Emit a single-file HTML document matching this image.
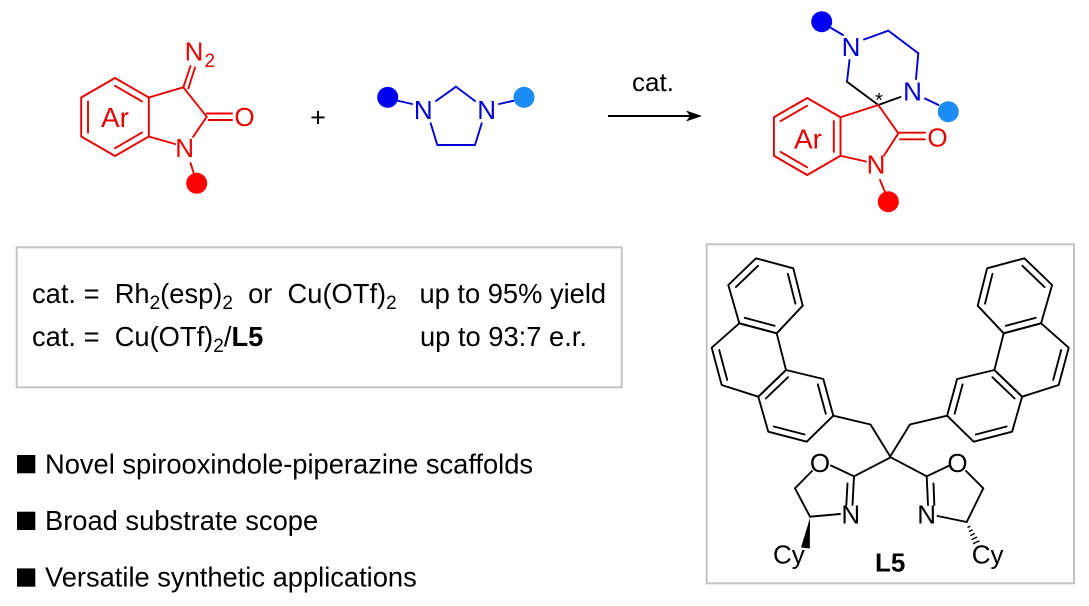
<!DOCTYPE html>
<html>
<head>
<meta charset="utf-8">
<style>
  html, body { margin:0; padding:0; background:#fff; }
  body { width:1089px; height:606px; overflow:hidden; }
  svg { display:block; }
  text { font-family:"Liberation Sans", Arial, sans-serif; white-space:pre; }
</style>
</head>
<body>
<svg width="1089" height="606" viewBox="0 0 1089 606" xmlns="http://www.w3.org/2000/svg">
  <rect x="0" y="0" width="1089" height="606" fill="#ffffff"/>

  <!-- ============ Left reactant (red) ============ -->
  <g stroke="#e60000" stroke-width="1.9" fill="none" stroke-linecap="round" stroke-linejoin="round">
    <polygon points="115,78 148.8,97.5 148.8,136.5 115,156 81.2,136.5 81.2,97.5"/>
    <line x1="88" y1="101.4" x2="88" y2="132.6"/>
    <line x1="115" y1="85.8" x2="142" y2="101.4"/>
    <line x1="115" y1="148.2" x2="142" y2="132.6"/>
    <line x1="148.8" y1="97.5" x2="183.3" y2="87.3"/>
    <line x1="183.3" y1="87.3" x2="206.7" y2="116.7"/>
    <line x1="206.7" y1="116.7" x2="193" y2="137"/>
    <line x1="175" y1="144" x2="148.8" y2="136.5"/>
    <line x1="183.3" y1="87.3" x2="190.5" y2="66"/>
    <line x1="188.3" y1="88.5" x2="195" y2="67.5"/>
    <line x1="206.7" y1="113.5" x2="232" y2="113.5"/>
    <line x1="208.5" y1="120" x2="232" y2="120"/>
    <line x1="190.5" y1="163" x2="194" y2="174"/>
  </g>
  <circle cx="196.7" cy="183.3" r="10.5" fill="#ff0000"/>
  <g fill="#e60000" font-size="26">
    <text x="194" y="60.6" text-anchor="middle">N</text>
    <text x="204.5" y="67" font-size="19">2</text>
    <text x="184.7" y="157" text-anchor="middle">N</text>
    <text x="244.5" y="126" text-anchor="middle">O</text>
    <text x="115" y="127" text-anchor="middle" font-size="28">Ar</text>
  </g>

  <!-- plus -->
  <text x="318" y="126.5" text-anchor="middle" font-size="27" fill="#000">+</text>

  <!-- ============ Imidazolidine (blue) ============ -->
  <g stroke="#0000d0" stroke-width="1.9" fill="none" stroke-linecap="round" stroke-linejoin="round">
    <line x1="397" y1="100.5" x2="412" y2="104"/>
    <line x1="436" y1="101" x2="456" y2="86.7"/>
    <line x1="456" y1="86.7" x2="475" y2="101"/>
    <polyline points="430.7,123.3 437.3,145 475,145 481.7,123.3"/>
    <line x1="499" y1="104" x2="514" y2="100.7"/>
  </g>
  <circle cx="387.7" cy="97.3" r="10.5" fill="#0000f0"/>
  <circle cx="524" cy="97.3" r="10.5" fill="#1e8cf5"/>
  <g fill="#0000d0" font-size="26">
    <text x="423.3" y="118.8" text-anchor="middle">N</text>
    <text x="486.7" y="118.8" text-anchor="middle">N</text>
  </g>

  <!-- ============ Arrow ============ -->
  <text x="653" y="91" text-anchor="middle" font-size="26" fill="#000">cat.</text>
  <line x1="608" y1="116" x2="692" y2="116" stroke="#000" stroke-width="1.9"/>
  <polygon points="702,116 686,110.5 690,116 686,121.5" fill="#000"/>

  <!-- ============ Product ============ -->
  <g stroke="#0000d0" stroke-width="1.9" fill="none" stroke-linecap="round" stroke-linejoin="round">
    <line x1="831" y1="28" x2="843" y2="35"/>
    <line x1="864" y1="39.5" x2="888.3" y2="30.7"/>
    <line x1="888.3" y1="30.7" x2="918.3" y2="53.3"/>
    <line x1="918.3" y1="53.3" x2="916" y2="79"/>
    <line x1="849.5" y1="60" x2="847" y2="81.7"/>
    <line x1="925" y1="98.5" x2="938.5" y2="105"/>
  </g>
  <g stroke="#000" stroke-width="1.9" fill="none" stroke-linecap="round">
    <line x1="847" y1="81.7" x2="878.3" y2="105"/>
    <line x1="878.3" y1="105" x2="900.5" y2="97"/>
  </g>
  <g stroke="#e60000" stroke-width="1.9" fill="none" stroke-linecap="round" stroke-linejoin="round">
    <polygon points="807.2,98 840.5,117.25 840.5,155.75 807.2,175 773.9,155.75 773.9,117.25"/>
    <line x1="780.6" y1="121.1" x2="807.2" y2="105.7"/>
    <line x1="833.8" y1="121.1" x2="833.8" y2="151.9"/>
    <line x1="780.6" y1="151.9" x2="807.2" y2="167.3"/>
    <line x1="878.3" y1="105" x2="840.5" y2="117.25"/>
    <line x1="878.3" y1="105" x2="898.3" y2="133.3"/>
    <line x1="898.3" y1="132.7" x2="925" y2="132.7"/>
    <line x1="900" y1="139.3" x2="925" y2="139.3"/>
    <line x1="898.3" y1="133.3" x2="884" y2="155.5"/>
    <line x1="866" y1="161.5" x2="840.5" y2="155.75"/>
    <line x1="880" y1="180" x2="885" y2="192"/>
  </g>
  <circle cx="821.7" cy="21.7" r="10.5" fill="#0000f0"/>
  <circle cx="948.3" cy="111.7" r="10.5" fill="#1e8cf5"/>
  <circle cx="888.3" cy="201.7" r="10.5" fill="#ff0000"/>
  <g fill="#0000d0" font-size="26">
    <text x="851" y="55.8" text-anchor="middle">N</text>
    <text x="912.5" y="100.3" text-anchor="middle">N</text>
  </g>
  <text x="879" y="107" text-anchor="middle" font-size="20" fill="#000">*</text>
  <g fill="#e60000" font-size="26">
    <text x="937.5" y="146.3" text-anchor="middle">O</text>
    <text x="876" y="173.3" text-anchor="middle">N</text>
    <text x="808" y="148.3" text-anchor="middle" font-size="28">Ar</text>
  </g>

  <!-- ============ Conditions box ============ -->
  <rect x="16.7" y="247.3" width="605" height="140" fill="none" stroke="#c4c4c4" stroke-width="2"/>
  <g font-size="27.3" fill="#000">
    <text x="32" y="303">cat. =  Rh<tspan font-size="19" dy="6">2</tspan><tspan dy="-6">(esp)</tspan><tspan font-size="19" dy="6">2</tspan><tspan dy="-6">  or  Cu(OTf)</tspan><tspan font-size="19" dy="6">2</tspan><tspan dy="-6">   up to 95% yield</tspan></text>
    <text x="32" y="346">cat. =  Cu(OTf)<tspan font-size="19" dy="6">2</tspan><tspan dy="-6">/</tspan><tspan font-weight="bold">L5</tspan></text>
    <text x="420" y="346">up to 93:7 e.r.</text>
  </g>

  <!-- ============ Bullets ============ -->
  <rect x="17" y="455" width="18.3" height="18.3" fill="#000"/>
  <rect x="17" y="511.7" width="18.3" height="18.3" fill="#000"/>
  <rect x="17" y="568.4" width="18.3" height="18.3" fill="#000"/>
  <g font-size="27.3" fill="#000">
    <text x="45" y="473.3">Novel spirooxindole-piperazine scaffolds</text>
    <text x="45" y="530">Broad substrate scope</text>
    <text x="45" y="586.7">Versatile synthetic applications</text>
  </g>

  <!-- ============ L5 box ============ -->
  <rect x="706.7" y="244.3" width="367.3" height="339" fill="none" stroke="#c4c4c4" stroke-width="2"/>

  <g stroke="#000" stroke-width="1.9" fill="none" stroke-linecap="round" stroke-linejoin="round">
    <polygon points="756,258.3 793.3,268.3 802.7,305.7 776.7,333.3 739.3,323.3 728.3,285"/>
    <polygon points="739.3,323.3 776.7,333.3 786,370 758.3,396.7 721.7,385 711.7,347.7"/>
    <polygon points="786,370 823.3,379 833.3,415.7 806.7,441.7 768.3,431.7 758.3,396.7"/>
    <line x1="735.9" y1="287.1" x2="758" y2="265.8"/>
    <line x1="787.9" y1="273.8" x2="795.4" y2="303.7"/>
    <line x1="774.6" y1="325.8" x2="744.7" y2="317.8"/>
    <line x1="719.2" y1="350" x2="727.2" y2="379.9"/>
    <line x1="817.8" y1="384.4" x2="825.8" y2="413.7"/>
    <line x1="804.6" y1="434.5" x2="773.8" y2="426.5"/>
    <line x1="765.8" y1="398.5" x2="788" y2="377.2"/>
    <polyline points="833.3,415.7 870.5,424.5 890.7,457.3"/>
  </g>
  <g transform="matrix(-1,0,0,1,1780.4,0)" stroke="#000" stroke-width="1.9" fill="none" stroke-linecap="round" stroke-linejoin="round">
    <polygon points="756,258.3 793.3,268.3 802.7,305.7 776.7,333.3 739.3,323.3 728.3,285"/>
    <polygon points="739.3,323.3 776.7,333.3 786,370 758.3,396.7 721.7,385 711.7,347.7"/>
    <polygon points="786,370 823.3,379 833.3,415.7 806.7,441.7 768.3,431.7 758.3,396.7"/>
    <line x1="735.9" y1="287.1" x2="758" y2="265.8"/>
    <line x1="787.9" y1="273.8" x2="795.4" y2="303.7"/>
    <line x1="774.6" y1="325.8" x2="744.7" y2="317.8"/>
    <line x1="719.2" y1="350" x2="727.2" y2="379.9"/>
    <line x1="817.8" y1="384.4" x2="825.8" y2="413.7"/>
    <line x1="804.6" y1="434.5" x2="773.8" y2="426.5"/>
    <line x1="765.8" y1="398.5" x2="788" y2="377.2"/>
    <polyline points="833.3,415.7 870.5,424.5 890.7,457.3"/>
  </g>

  <!-- oxazolines -->
  <g stroke="#000" stroke-width="1.9" fill="none" stroke-linecap="round" stroke-linejoin="round">
    <line x1="890.7" y1="457.3" x2="854" y2="476.3"/>
    <line x1="854" y1="476.3" x2="831" y2="465.5"/>
    <line x1="812" y1="471" x2="795" y2="488.3"/>
    <line x1="795" y1="488.3" x2="810" y2="516.7"/>
    <line x1="810" y1="516.7" x2="840" y2="514"/>
    <line x1="854" y1="476.3" x2="852.5" y2="505"/>
    <line x1="847.5" y1="483.5" x2="846.3" y2="505"/>

    <line x1="890.7" y1="457.3" x2="926.7" y2="476.3"/>
    <line x1="926.7" y1="476.3" x2="949.5" y2="465.5"/>
    <line x1="966" y1="471" x2="983.3" y2="488.3"/>
    <line x1="983.3" y1="488.3" x2="966.7" y2="522"/>
    <line x1="966.7" y1="522" x2="937.5" y2="516"/>
    <line x1="926.7" y1="476.3" x2="928" y2="505"/>
    <line x1="933.5" y1="483.5" x2="934.3" y2="505"/>
  </g>
  <polygon points="810,518 801,547.5 809.8,548.5" fill="#000"/>
  <g stroke="#000" stroke-width="1.4">
    <line x1="967.5" y1="527.5" x2="970.4" y2="526.1"/>
    <line x1="968.9" y1="531.5" x2="972.7" y2="529.8"/>
    <line x1="970.3" y1="535.6" x2="974.9" y2="533.4"/>
    <line x1="971.6" y1="539.6" x2="977.1" y2="537.0"/>
    <line x1="973.0" y1="543.7" x2="979.4" y2="540.7"/>
  </g>
  <g fill="#000" font-size="26">
    <text x="820" y="472" text-anchor="middle">O</text>
    <text x="850.8" y="523.6" text-anchor="middle">N</text>
    <text x="957.5" y="472" text-anchor="middle">O</text>
    <text x="926.7" y="523.6" text-anchor="middle">N</text>
    <text x="773" y="563.5">Cy</text>
    <text x="971.7" y="563.5">Cy</text>
    <text x="875" y="571.7" font-size="26" font-weight="bold">L5</text>
  </g>
</svg>
</body>
</html>
